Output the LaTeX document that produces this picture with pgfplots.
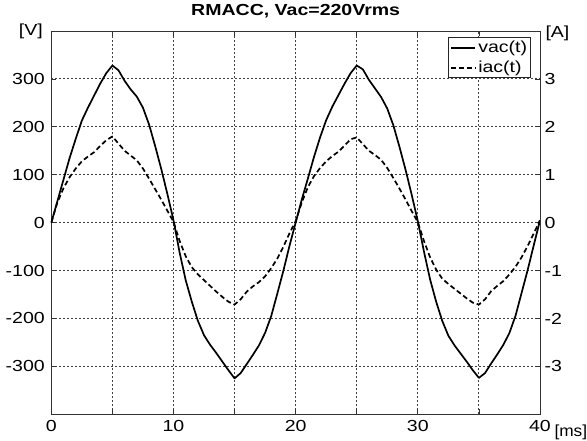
\documentclass[border=0pt]{standalone}
\usepackage{pgfplots}
\pgfplotsset{compat=1.18}
\usepackage{pgfplotstable}
\usepackage{graphicx}
\usepackage{fontspec}
\setmainfont{Liberation Sans}
\newcommand\sx[1]{\scalebox{1.22}[1]{#1}}

\pgfplotstableread{
t v
0 0
0.5 45
1 90
1.5 135
2 175
2.5 213
3 240
3.5 265
4 290
4.5 312
5 328
5.5 318
6 296
6.5 278
7 263
7.5 240
8 205
8.5 160
9 112
9.5 60
10 5
10.5 -62
11 -120
11.5 -165
12 -205
12.5 -235
13 -255
13.5 -272
14 -290
14.5 -308
15 -325
15.5 -314
16 -295
16.5 -276
17 -256
17.5 -230
18 -195
18.5 -148
19 -100
19.5 -48
20 0
20.5 48
21 92
21.5 137
22 178
22.5 214
23 242
23.5 266
24 290
24.5 312
25 328
25.5 320
26 298
26.5 280
27 262
27.5 238
28 203
28.5 158
29 110
29.5 58
30 3
30.5 -60
31 -118
31.5 -165
32 -205
32.5 -236
33 -256
33.5 -273
34 -290
34.5 -308
35 -324
35.5 -314
36 -294
36.5 -275
37 -255
37.5 -230
38 -194
38.5 -146
39 -98
39.5 -46
40 5
}\vac

\pgfplotstableread{
t i
0 0
0.5 0.42
1 0.72
1.5 0.95
2 1.13
2.5 1.28
3 1.38
3.5 1.47
4 1.60
4.5 1.72
5 1.80
5.5 1.65
6 1.50
6.5 1.40
7 1.30
7.5 1.13
8 0.92
8.5 0.70
9 0.48
9.5 0.25
10 0.02
10.5 -0.38
11 -0.70
11.5 -0.93
12 -1.08
12.5 -1.20
13 -1.32
13.5 -1.44
14 -1.55
14.5 -1.65
15 -1.71
15.5 -1.60
16 -1.44
16.5 -1.33
17 -1.24
17.5 -1.12
18 -0.95
18.5 -0.75
19 -0.50
19.5 -0.22
20 0.03
20.5 0.42
21 0.74
21.5 0.97
22 1.14
22.5 1.28
23 1.39
23.5 1.48
24 1.61
24.5 1.74
25 1.78
25.5 1.64
26 1.50
26.5 1.41
27 1.31
27.5 1.14
28 0.93
28.5 0.71
29 0.48
29.5 0.24
30 0.01
30.5 -0.38
31 -0.72
31.5 -0.98
32 -1.17
32.5 -1.28
33 -1.38
33.5 -1.48
34 -1.58
34.5 -1.67
35 -1.71
35.5 -1.60
36 -1.43
36.5 -1.32
37 -1.22
37.5 -1.08
38 -0.92
38.5 -0.72
39 -0.48
39.5 -0.22
40 0.05
}\iac

\begin{document}
\begin{tikzpicture}[font=\fontsize{16}{19}\selectfont]
\begin{axis}[
  at={(0,0)}, anchor=south west,
  scale only axis, width=488.7pt, height=383.3pt,
  clip=false,
  xmin=0, xmax=40, ymin=-400, ymax=400,
  xtick={0,5,...,40},
  xticklabels={\sx{0},,\sx{10},,\sx{20},,\sx{30},,\sx{40}},
  ytick={-300,-200,...,300},
  yticklabels={\sx{-300},\sx{-200},\sx{-100},\sx{0},\sx{100},\sx{200},\sx{300}},
  ytick pos=left,
  xtick pos=both,
  tick align=inside,
  major tick length=5pt,
  tick style={black!80, line width=0.8pt},
  axis line style={black!80, line width=0.9pt},
  grid=major,
  major grid style={black!75, line width=0.9pt, dash pattern=on 1.8pt off 2.2pt},
  xticklabel style={yshift=-2pt},
  yticklabel style={xshift=-3pt},
  title={\bfseries\sx{RMACC, Vac=220Vrms}},
  title style={at={(0.5,1)}, anchor=base, yshift=10pt},
  legend style={at={(axis description cs:0.9816,0.9836)}, anchor=north east,
    draw=black!85, line width=0.9pt, inner sep=1.5pt, row sep=3pt,
    font=\fontsize{16}{17}\selectfont, fill=white},
  legend cell align=left,
  legend image code/.code={\draw[#1] (0cm,0cm) -- (0.85cm,0cm);},
]
\addplot[black, line width=1.7pt, line join=round] table[x=t,y=v]{\vac};
\addlegendentry{\sx{vac(t)}}
\addlegendimage{black, line width=1.7pt, dash pattern=on 5pt off 3pt}
\addlegendentry{\sx{iac(t)}}
\node[anchor=east] at (axis description cs:0,1) [xshift=-5pt, yshift=0pt] {\sx{[V]}};
\node[anchor=west] at (axis description cs:1,1) [xshift=2pt, yshift=-2pt] {\sx{[A]}};
\node[anchor=west] at (axis description cs:1,0) [xshift=11pt, yshift=-18pt] {\scalebox{1.08}[1]{[ms]}};
\end{axis}
\begin{axis}[
  at={(0,0)}, anchor=south west,
  scale only axis, width=488.7pt, height=383.3pt,
  xmin=0, xmax=40, ymin=-4, ymax=4,
  axis x line=none,
  axis y line*=right,
  ytick={-3,-2,...,3},
  yticklabels={\sx{-3},\sx{-2},\sx{-1},\sx{0},\sx{1},\sx{2},\sx{3}},
  tick align=inside,
  major tick length=5pt,
  tick style={black!80, line width=0.8pt},
  axis line style={black!80, line width=0.9pt},
  yticklabel style={xshift=1pt},
]
\addplot[black, line width=1.7pt, dash pattern=on 5pt off 3pt, line join=round] table[x=t,y=i]{\iac};
\end{axis}
\pgfresetboundingbox
\path[use as bounding box] (-51.3pt,-26.7pt) rectangle (535.7pt,414.3pt);
\end{tikzpicture}
\end{document}
